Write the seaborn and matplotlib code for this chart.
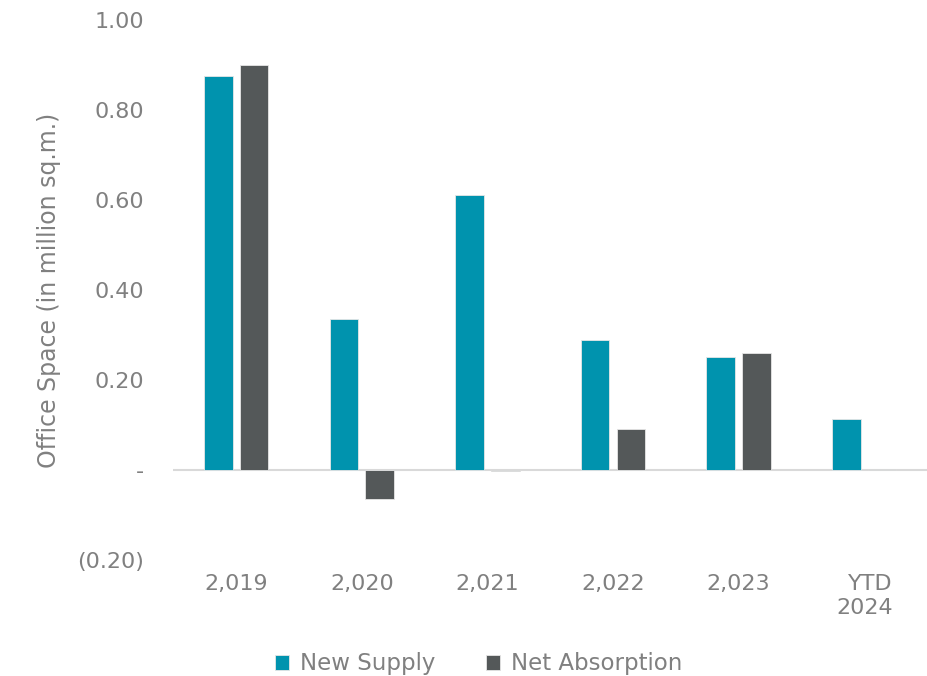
import matplotlib
matplotlib.use("Agg")
import matplotlib.pyplot as plt
import seaborn as sns
import pandas as pd
from matplotlib.ticker import FixedLocator, FuncFormatter

categories = ["2,019", "2,020", "2,021", "2,022", "2,023", "YTD\n2024"]
new_supply = [0.876, 0.336, 0.611, 0.289, 0.250, 0.114]
net_absorption = [0.900, -0.065, -0.003, 0.090, 0.259, 0.001]
series_names = ["New Supply", "Net Absorption"]
y_ticks = [-0.2, 0.0, 0.2, 0.4, 0.6, 0.8, 1.0]

df = pd.DataFrame({
    "Year": categories * 2,
    "Value": new_supply + net_absorption,
    "Series": [series_names[0]] * len(categories) + [series_names[1]] * len(categories),
})

sns.set_theme(style="white")
plt.rcParams["font.family"] = ["DejaVu Sans"]
text_color = "#808080"
fs = 16

fig = plt.figure(figsize=(9.27, 6.76), dpi=100)
ax = fig.add_axes([0.187, 0.172, 0.813, 0.798])

palette = {"New Supply": "#0093AE", "Net Absorption": "#545859"}
sns.barplot(data=df, x="Year", y="Value", hue="Series", order=categories,
            hue_order=series_names, palette=palette, width=0.57, gap=0.2,
            saturation=1, edgecolor="#e6e6e6", linewidth=0.6, ax=ax, legend=True)

ax.set_ylim(-0.2, 1.0)
ax.set_xlim(-0.5, 5.5)
ax.axhline(0, color="#d9d9d9", lw=1.5, zorder=0)
for s in ax.spines.values():
    s.set_visible(False)

def fmt(v, pos):
    if abs(v) < 1e-9:
        return "-"
    if v < 0:
        return f"({abs(v):.2f})"
    return f"{v:.2f}"

ax.yaxis.set_major_locator(FixedLocator(y_ticks))
ax.yaxis.set_major_formatter(FuncFormatter(fmt))
ax.tick_params(axis="y", length=0, pad=21, labelsize=fs, labelcolor=text_color)
ax.tick_params(axis="x", length=0, pad=10, labelsize=fs, labelcolor=text_color)
for lbl in ax.get_xticklabels():
    lbl.set_multialignment("right")
    lbl.set_verticalalignment("top")
    lbl.set_linespacing(1.3)

ax.set_xlabel("")
ax.set_ylabel("Office Space (in million sq.m.)", fontsize=17, color=text_color, labelpad=12)

leg = ax.legend(loc="center", bbox_to_anchor=(0.405, -0.193), ncol=2, frameon=False,
                fontsize=16.5, handlelength=0.6, handleheight=0.6, columnspacing=2.2,
                handletextpad=0.5)
for t in leg.get_texts():
    t.set_color(text_color)

fig.savefig("out.png", dpi=100)
